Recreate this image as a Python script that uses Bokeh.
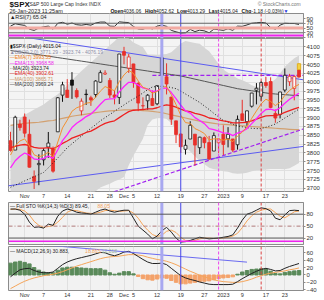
from bokeh.plotting import figure
from bokeh.layouts import column
from bokeh.models import Range1d, FixedTicker, Span, ColumnDataSource, Label
from bokeh.embed import file_html
from bokeh.resources import INLINE
from bokeh.core.properties import value

FONT = "Liberation Sans"

dates = ["2022-10-27","2022-10-28","2022-10-31","2022-11-01","2022-11-02","2022-11-03","2022-11-04",
 "2022-11-07","2022-11-08","2022-11-09","2022-11-10","2022-11-11",
 "2022-11-14","2022-11-15","2022-11-16","2022-11-17","2022-11-18",
 "2022-11-21","2022-11-22","2022-11-23","2022-11-25",
 "2022-11-28","2022-11-29","2022-11-30","2022-12-01","2022-12-02",
 "2022-12-05","2022-12-06","2022-12-07","2022-12-08","2022-12-09",
 "2022-12-12","2022-12-13","2022-12-14","2022-12-15","2022-12-16",
 "2022-12-19","2022-12-20","2022-12-21","2022-12-22","2022-12-23",
 "2022-12-27","2022-12-28","2022-12-29","2022-12-30",
 "2023-01-03","2023-01-04","2023-01-05","2023-01-06",
 "2023-01-09","2023-01-10","2023-01-11","2023-01-12","2023-01-13",
 "2023-01-17","2023-01-18","2023-01-19","2023-01-20",
 "2023-01-23","2023-01-24","2023-01-25","2023-01-26"]

opens = [3834.69, 3808.26, 3881.85, 3901.79, 3852.90, 3733.25, 3766.98,
 3780.71, 3817.02, 3810.94, 3859.89, 3963.72,
 3977.97, 4006.41, 3976.82, 3919.26, 3966.39,
 3956.23, 3965.51, 4000.30, 4023.34,
 4005.36, 3964.19, 3957.18, 4087.14, 4040.17,
 4052.02, 3996.63, 3933.28, 3947.79, 3954.17,
 3939.29, 4069.38, 4015.54, 3958.37, 3890.91,
 3853.79, 3810.47, 3839.49, 3853.26, 3815.11,
 3843.34, 3829.56, 3805.45, 3829.06,
 3853.29, 3840.36, 3839.74, 3823.37,
 3910.82, 3888.57, 3932.35, 3977.57, 3960.60,
 3999.28, 4002.25, 3911.84, 3909.04,
 3978.14, 4001.74, 3982.71, 4036.06]
highs = [3859.95, 3905.42, 3893.73, 3911.79, 3894.44, 3750.59, 3796.34,
 3813.95, 3859.40, 3818.20, 3958.33, 4001.48,
 4008.97, 4028.84, 3983.09, 3954.33, 3979.89,
 3962.00, 4005.88, 4033.78, 4034.02,
 4012.27, 3976.77, 4080.11, 4100.51, 4080.48,
 4052.45, 4001.51, 3957.57, 3966.53, 3977.02,
 3990.71, 4100.96, 4053.76, 3958.37, 3890.91,
 3854.86, 3838.24, 3889.82, 3853.26, 3845.80,
 3846.65, 3848.32, 3858.19, 3839.85,
 3878.46, 3873.16, 3839.74, 3906.19,
 3950.57, 3919.83, 3970.07, 3997.76, 4003.95,
 4015.39, 4014.16, 3922.94, 3972.96,
 4039.31, 4023.92, 4019.55, 4052.62]
lows = [3803.79, 3808.26, 3863.18, 3843.80, 3758.68, 3698.15, 3708.84,
 3764.70, 3786.28, 3744.22, 3859.89, 3944.82,
 3956.40, 3953.17, 3954.34, 3906.54, 3935.98,
 3933.34, 3956.88, 3998.66, 4020.76,
 3955.77, 3937.65, 3938.58, 4050.87, 4026.63,
 3984.49, 3918.39, 3922.68, 3922.66, 3933.04,
 3935.30, 3993.03, 3965.65, 3879.45, 3827.91,
 3800.04, 3795.62, 3839.49, 3764.49, 3797.01,
 3813.22, 3780.78, 3805.45, 3800.34,
 3794.33, 3815.77, 3802.42, 3809.56,
 3890.42, 3877.29, 3928.54, 3937.56, 3947.67,
 3984.57, 3926.59, 3885.54, 3897.86,
 3971.64, 3989.79, 3949.06, 4013.29]
closes = [3807.30, 3901.06, 3871.98, 3856.10, 3759.69, 3719.89, 3770.55,
 3806.80, 3828.11, 3748.57, 3956.37, 3992.93,
 3957.25, 3991.73, 3958.79, 3946.56, 3965.34,
 3949.94, 4003.58, 4027.26, 4026.12,
 3963.94, 3957.63, 4080.11, 4076.57, 4071.70,
 3998.84, 3941.26, 3933.92, 3963.51, 3934.38,
 3990.56, 4019.65, 3995.32, 3895.75, 3852.36,
 3817.66, 3821.62, 3878.44, 3822.39, 3844.82,
 3829.25, 3783.22, 3849.28, 3839.50,
 3824.14, 3852.97, 3808.10, 3895.08,
 3892.09, 3919.25, 3969.61, 3983.17, 3999.09,
 3990.97, 3928.86, 3898.85, 3972.61,
 4019.81, 4016.95, 4016.22, 4015.04]
prev_close = 3830.60

ema7 = [3794, 3821, 3834, 3840, 3820, 3795, 3789, 3794, 3802, 3789, 3831, 3871, 3893, 3918, 3928, 3933,
 3941, 3943, 3958, 3975, 3988, 3982, 3976, 4002, 4021, 4034, 4025, 4004, 3986, 3981, 3969, 3974, 3986,
 3988, 3965, 3937, 3907, 3886, 3884, 3869, 3863, 3855, 3837, 3840, 3840, 3836, 3840, 3832, 3848, 3859,
 3874, 3898, 3919, 3939, 3952, 3946, 3934, 3944, 3963, 3977, 3987, 3994]
ema13 = [3758, 3778, 3791, 3800, 3794, 3783, 3781, 3785, 3791, 3785, 3809, 3835, 3852, 3872, 3884, 3893,
 3903, 3910, 3923, 3938, 3951, 3953, 3954, 3973, 3988, 4000, 4000, 3992, 3984, 3981, 3974, 3976, 3982,
 3984, 3971, 3954, 3935, 3919, 3913, 3900, 3892, 3883, 3869, 3866, 3862, 3857, 3856, 3849, 3856, 3861,
 3869, 3883, 3897, 3912, 3923, 3924, 3920, 3928, 3941, 3952, 3961, 3969]
ma20 = [3703, 3709, 3715, 3721, 3727, 3733, 3739, 3745, 3758, 3772, 3786, 3800, 3815, 3826, 3837, 3848,
 3859, 3870, 3880, 3891, 3900, 3909, 3918, 3927, 3936, 3945, 3953, 3961, 3970, 3979, 3987, 3988, 3989,
 3988, 3985, 3982, 3975, 3967, 3959, 3951, 3943, 3933, 3923, 3912, 3902, 3892, 3887, 3881, 3876, 3874,
 3872, 3870, 3869, 3869, 3873, 3877, 3882, 3890, 3899, 3907, 3916, 3924]
bb_upper = [3873, 3887, 3898, 3908, 3915, 3923, 3930, 3937, 3948, 3957, 3966, 3978, 3991, 4006, 4019, 4032,
 4044, 4056, 4068, 4080, 4092, 4105, 4116, 4129, 4140, 4125, 4113, 4106, 4100, 4079, 4079, 4078, 4079,
 4080, 4085, 4097, 4110, 4117, 4114, 4111, 4109, 4098, 4088, 4070, 4052, 4036, 4027, 4019, 4011, 4006,
 4000, 3992, 3987, 3986, 3993, 3999, 4009, 4025, 4044, 4057, 4068, 4076]
bb_lower = [3533, 3531, 3532, 3534, 3539, 3543, 3548, 3553, 3568, 3587, 3606, 3622, 3639, 3646, 3655, 3664,
 3674, 3684, 3692, 3702, 3708, 3713, 3720, 3725, 3732, 3765, 3793, 3816, 3840, 3879, 3895, 3898, 3899,
 3896, 3885, 3867, 3840, 3817, 3804, 3791, 3777, 3768, 3758, 3754, 3752, 3748, 3747, 3743, 3741, 3742,
 3744, 3748, 3751, 3752, 3753, 3755, 3755, 3755, 3754, 3757, 3764, 3772]
ema40 = [3815, 3819, 3822, 3824, 3821, 3816, 3814, 3814, 3815, 3812, 3819, 3827, 3834, 3842, 3847, 3852,
 3858, 3862, 3869, 3877, 3884, 3888, 3891, 3900, 3909, 3917, 3921, 3922, 3923, 3925, 3925, 3928, 3933,
 3936, 3934, 3930, 3924, 3919, 3917, 3912, 3909, 3905, 3899, 3897, 3894, 3891, 3889, 3885, 3885, 3886,
 3887, 3891, 3896, 3901, 3905, 3906, 3906, 3909, 3915, 3920, 3925, 3929]
ma100 = [3878, 3880, 3882, 3884, 3885, 3886, 3887, 3889, 3891, 3892, 3895, 3898, 3901, 3904, 3906, 3908,
 3910, 3912, 3914, 3916, 3918, 3919, 3920, 3921, 3922, 3922, 3922, 3921, 3920, 3919, 3918, 3916, 3914,
 3911, 3908, 3905, 3902, 3899, 3896, 3893, 3890, 3888, 3886, 3884, 3882, 3881, 3880, 3879, 3878, 3877,
 3876, 3875, 3874, 3873, 3872, 3871, 3870, 3869, 3868, 3867, 3866, 3866]
ma200 = [4090, 4088, 4086, 4084, 4082, 4080, 4078, 4076, 4074, 4072, 4070, 4068, 4066, 4064, 4062, 4060,
 4058, 4056, 4054, 4052, 4050, 4048, 4046, 4044, 4042, 4040, 4038, 4036, 4034, 4032, 4030, 4028, 4026,
 4024, 4022, 4020, 4018, 4015, 4012, 4009, 4006, 4003, 4000, 3997, 3994, 3991, 3988, 3985, 3982, 3980,
 3978, 3976, 3974, 3972, 3970, 3968, 3967, 3966, 3965, 3964, 3963, 3962]

rsi7 = [58, 68, 64, 61, 45, 40, 50, 55, 58, 45, 70, 74, 66, 71, 64, 62, 65, 62, 71, 75, 75, 58, 57, 76,
 74, 73, 56, 46, 45, 52, 46, 58, 62, 57, 40, 34, 29, 30, 44, 35, 41, 38, 30, 45, 43, 40, 47, 40, 58, 57,
 63, 70, 72, 74, 71, 52, 45, 62, 70, 69, 69, 65]
sto_k = [93, 93, 90, 80, 60, 47, 48, 45, 55, 52, 75, 88, 93, 90, 85, 83, 82, 80, 85, 90, 93, 88, 85, 88,
 90, 90, 70, 50, 40, 30, 18, 25, 38, 47, 35, 20, 10, 11, 14, 18, 22, 20, 18, 19, 20, 22, 24, 28, 45, 65,
 80, 84, 90, 96, 94, 88, 70, 66, 78, 89, 90, 89]
sto_d = [92, 93, 92, 88, 78, 62, 52, 47, 49, 51, 60, 72, 85, 90, 89, 86, 83, 82, 82, 85, 89, 90, 89, 87,
 88, 89, 83, 70, 53, 40, 29, 24, 27, 37, 40, 34, 22, 14, 12, 14, 18, 20, 20, 19, 19, 20, 22, 25, 32, 46,
 63, 76, 85, 90, 93, 93, 84, 75, 71, 78, 86, 88]
macd = [-5, 5, 14, 17, 18, 12, 8, 6, 6, 8, 18, 28, 35, 40, 44, 47, 50, 53, 57, 61, 60, 55, 52, 56, 62, 64,
 58, 50, 42, 35, 31, 31, 32, 28, 18, 8, -2, -8, -12, -15, -19, -22, -25, -26, -26, -26, -26, -25, -18,
 -10, -3, 4, 10, 15, 18, 15, 11, 12, 18, 23, 27, 31]
macd_signal = [-37, -30, -23, -17, -12, -8, -5, -2, 0, 2, 5, 9, 14, 19, 24, 28, 32, 36, 40, 44, 47, 49, 50,
 51, 53, 55, 55, 54, 52, 48, 45, 42, 40, 37, 33, 28, 22, 16, 10, 5, -1, -5, -9, -13, -16, -18, -19, -20,
 -20, -18, -15, -11, -6, -2, 2, 5, 7, 9, 11, 14, 16, 19]
macd_hist = [32, 35, 37, 34, 30, 20, 13, 8, 6, 6, 13, 19, 21, 21, 20, 19, 18, 17, 17, 17, 13, 6, 2, 5, 9, 9,
 3, -4, -10, -13, -14, -11, -8, -9, -15, -20, -24, -24, -22, -20, -18, -17, -16, -13, -10, -8, -7, -5, 2,
 8, 12, 15, 16, 17, 16, 10, 4, 3, 7, 9, 11, 12]

tick_dates = ["2022-11-01","2022-11-07","2022-11-14","2022-11-21","2022-11-28","2022-12-01","2022-12-05",
              "2022-12-12","2022-12-19","2022-12-27","2023-01-03","2023-01-09","2023-01-17","2023-01-23"]
tick_labels = ["Nov","7","14","21","28","Dec","5","12","19","27","2023","9","17","23"]

# annotation lines (date, value) pairs
tl_upper = (["2022-10-27", "2023-01-26"], [4134, 4009])
tl_lower = (["2022-10-27", "2023-01-26"], [3708, 3817])
tl_purple = (["2022-12-27", "2023-01-26"], [3775, 3864])
hl_purple = ("2022-12-09", 4019.65)
vlines = [("2022-12-13", "#a8a8f0", 3, "solid"), ("2022-12-19", "#4a4aee", 1, "solid"),
          ("2022-12-30", "#ee44ee", 1, "3 2"), ("2023-01-13", "#dd4444", 1, "3 2")]

xs = list(range(len(dates)))
XR = Range1d(-0.42, 61.95)
tick_idx = [dates.index(d) for d in tick_dates]
BG = "#f2f2f2"


def panel(height, y0, y1, ticks, top=0, bottom=0, xaxis=False, bg=BG):
    p = figure(width=324, height=height, x_range=XR, y_range=Range1d(y0, y1),
               output_backend="svg", toolbar_location=None,
               x_axis_location="below" if xaxis else None, y_axis_location="right",
               min_border_left=8, min_border_right=21, min_border_top=top, min_border_bottom=bottom,
               background_fill_color=bg, border_fill_color="white", outline_line_color="#8c8c8c")
    ya = p.yaxis[0]
    ya.ticker = FixedTicker(ticks=ticks)
    ya.major_label_text_font_size = "6px"
    ya.major_label_text_font = FONT
    ya.major_label_text_color = "#333333"
    ya.major_tick_out = 2
    ya.major_tick_in = 0
    ya.minor_tick_out = 0
    ya.minor_tick_in = 0
    ya.major_label_standoff = 1
    ya.axis_line_color = "#8c8c8c"
    ya.major_tick_line_color = "#8c8c8c"
    if xaxis:
        xa = p.xaxis[0]
        xa.ticker = FixedTicker(ticks=tick_idx)
        xa.major_label_overrides = {i: t for i, t in zip(tick_idx, tick_labels)}
        xa.major_label_text_font_size = "5.5px"
        xa.major_label_text_font = FONT
        xa.major_label_text_color = "#333333"
        xa.major_tick_out = 0
        xa.major_tick_in = 0
        xa.minor_tick_out = 0
        xa.minor_tick_in = 0
        xa.major_label_standoff = 1
        xa.axis_line_color = None
    p.xgrid.ticker = FixedTicker(ticks=tick_idx)
    p.ygrid.ticker = FixedTicker(ticks=ticks)
    p.grid.grid_line_color = "#e0e0e0"
    p.grid.grid_line_width = 1
    for d, col, w, dash in vlines:
        p.add_layout(Span(location=dates.index(d), dimension="height", line_color=col,
                          line_width=w, line_dash=dash))
    return p


def seg_line(p, d_pair, v_pair, **kw):
    i0, i1 = dates.index(d_pair[0]), dates.index(d_pair[1])
    slope = (v_pair[1] - v_pair[0]) / (i1 - i0)
    xa, xb = XR.start - 3, XR.end + 3
    p.line([xa, xb], [v_pair[0] + slope * (xa - i0), v_pair[0] + slope * (xb - i0)], **kw)


# ---------------- header ----------------
hdr = figure(width=324, height=13, x_range=Range1d(0, 324), y_range=Range1d(13, 0),
             output_backend="svg", toolbar_location=None, x_axis_location=None, y_axis_location=None,
             min_border=0, outline_line_color=None, background_fill_color="white")
hdr.grid.visible = False
tf = value(FONT)
hdr.text(x=[1], y=[3.6], text=["$SPX"], text_font=tf, text_font_size="8px", text_font_style="bold",
         text_baseline="middle", text_color="#111111")
hdr.text(x=[23], y=[3.8], text=["S&P 500 Large Cap Index  INDX"], text_font=tf, text_font_size="5px",
         text_baseline="middle", text_color="#333333")
hdr.text(x=[321], y=[3.8], text=["\u00a9 StockCharts.com"], text_font=tf, text_font_size="5px",
         text_baseline="middle", text_align="right", text_color="#777777")
hdr.text(x=[1], y=[10], text=["26-Jan-2023 11:25am"], text_font=tf, text_font_size="5.5px",
         text_baseline="middle", text_color="#222222")
hdr.text(x=[112, 150, 185, 220, 256], y=[10] * 5, text=["Open", "High", "Low", "Last", "Chg"],
         text_font=tf, text_font_size="5px", text_font_style="bold", text_baseline="middle",
         text_color="#111111")
hdr.text(x=[126, 162, 196, 232, 267], y=[10] * 5,
         text=["4036.06", "4052.62", "4013.29", "4015.04", "-1.18 (-0.03%)"],
         text_font=tf, text_font_size="5px", text_baseline="middle", text_color="#222222")
hdr.text(x=[302], y=[10], text=["\u25bc"], text_font=tf, text_font_size="5px", text_baseline="middle",
         text_color="#2233dd")

# ---------------- RSI ----------------
p_rsi = panel(25, 6, 111, [10, 30, 50, 70, 90])
p_rsi.ygrid.grid_line_color = None
p_rsi.add_layout(Span(location=50, dimension="width", line_color="#f2aaa2", line_width=3))
p_rsi.add_layout(Span(location=70, dimension="width", line_color="#666666", line_width=1))
p_rsi.add_layout(Span(location=30, dimension="width", line_color="#666666", line_width=1))
p_rsi.add_layout(Span(location=19, dimension="width", line_color="#ee22ee", line_width=2))
p_rsi.line(xs, rsi7, line_color="#333333", line_width=1)
p_rsi.add_layout(Label(x=XR.start + 0.3, y=96, text="\u25b2RSI(7) 65.04", text_font=FONT,
                       text_font_size="5.5px", text_baseline="middle", text_color="#222222"))

# ---------------- Main price ----------------
YMIN, YMAX = 3691, 4124
p = panel(163, YMIN, YMAX, list(range(3700, 4101, 25)), top=0, bottom=0, xaxis=True, bg="#f4f4f4")
p.varea(x=xs, y1=bb_lower, y2=bb_upper, fill_color="#d6d6d6", fill_alpha=1)
seg_line(p, *tl_upper, line_color="#5b5bf0", line_width=1)
seg_line(p, *tl_lower, line_color="#5b5bf0", line_width=1)
seg_line(p, *tl_purple, line_color="#a020f0", line_width=1.2, line_dash="4 2")
p.line([dates.index(hl_purple[0]), XR.end + 3], [hl_purple[1], hl_purple[1]], line_color="#a020f0",
       line_width=1.2, line_dash="4 2")

col, fill, top_b, bot_b = [], [], [], []
for i in range(len(dates)):
    pc = prev_close if i == 0 else closes[i - 1]
    c = "#111111" if closes[i] >= pc else "#e8302a"
    col.append(c)
    fill.append("#fafafa" if closes[i] >= opens[i] else c)
    top_b.append(max(opens[i], closes[i]))
    bot_b.append(min(opens[i], closes[i]))
src = ColumnDataSource(dict(x=xs, h=highs, l=lows, top=top_b, bot=bot_b, col=col, fill=fill))

p.line(xs, ma200, line_color="#555555", line_width=1)
p.line(xs, ma100, line_color="#d2a070", line_width=1.2)
p.segment(x0="x", y0="h", x1="x", y1="l", line_color="col", line_width=1, source=src)
p.vbar(x="x", width=0.62, top="top", bottom="bot", fill_color="fill", line_color="col",
       line_width=0.8, source=src)
last = len(dates) - 1
p.vbar(x=[xs[last]], width=0.7, top=[highs[last]], bottom=[opens[last]], fill_color="#f5d142",
       line_color="#e0b020")
p.line(xs, ma20, line_color="#222222", line_width=1, line_dash="1 2")
p.line(xs, ema40, line_color="#ee2020", line_width=1.3)
p.line(xs, ema13, line_color="#ff22ff", line_width=1.3)
p.line(xs, ema7, line_color="#f39030", line_width=1)

leg = [("\u25ae$SPX (Daily) 4015.04", "#111111"),
       ("\u25b2BB(20,2.0) 3771.29 - 3923.74 - 4076.19", "#8f8fa8"),
       ("\u2014EMA(7) 3993.55", "#f08020"),
       ("\u2014EMA(13) 3968.58", "#ee22ee"),
       ("\u00b7\u00b7MA(20) 3923.74", "#222222"),
       ("\u2014EMA(40) 3902.61", "#e02020"),
       ("\u2014MA(100) 3865.71", "#c89060"),
       ("\u2014MA(200) 3969.24", "#333333")]
scale = (YMAX - YMIN) / 156.0
for k, (t, c) in enumerate(leg):
    p.add_layout(Label(x=XR.start + 0.25, y=YMAX - (8 + 5.5 * k) * scale, text=t, text_font=FONT,
                       text_font_size="5px", text_baseline="middle", text_color=c))

# ---------------- Full STO ----------------
p_sto = panel(45, 3.8, 109.4, [20, 50, 80], top=1, bottom=2)
p_sto.ygrid.grid_line_color = None
p_sto.add_layout(Span(location=80, dimension="width", line_color="#555555", line_width=1))
p_sto.add_layout(Span(location=20, dimension="width", line_color="#555555", line_width=1))
p_sto.add_layout(Span(location=50, dimension="width", line_color="#b07a7a", line_width=1,
                      line_dash="4 2 1 2"))
p_sto.add_layout(Span(location=12, dimension="width", line_color="#ee22ee", line_width=1.5))
p_sto.line(xs, sto_d, line_color="#f5a55a", line_width=1)
p_sto.line(xs, sto_k, line_color="#222222", line_width=1)
p_sto.add_layout(Label(x=XR.start + 0.3, y=101, text="\u2014 Full STO %K(14,3) %D(3) 89.45,",
                       text_font=FONT, text_font_size="5px", text_baseline="middle",
                       text_color="#222222"))
p_sto.add_layout(Label(x=XR.start + 18.8, y=101, text="88.05", text_font=FONT, text_font_size="5px",
                       text_baseline="middle", text_color="#f5a55a"))

# ---------------- MACD ----------------
p_macd = panel(54, -42, 77, [-40, -20, 0, 20, 40, 60], top=0, bottom=0, xaxis=True)
p_macd.ygrid.grid_line_color = None
hcol = ["#5a8a5a" if v >= 0 else "#f4a26a" for v in macd_hist]
p_macd.vbar(x=xs, width=0.72, top=macd_hist, bottom=0, fill_color=hcol, line_color=hcol)
p_macd.line(xs, macd_signal, line_color="#f5a55a", line_width=1)
p_macd.line(xs, macd, line_color="#222222", line_width=1)
p_macd.line([XR.start - 2, 50], [91.5, 34.7], line_color="#6a6af0", line_width=1)
p_macd.add_layout(Label(x=XR.start + 0.3, y=66, text="\u2014 MACD(12,26,9) 30.883,", text_font=FONT,
                        text_font_size="5px", text_baseline="middle", text_color="#222222"))
p_macd.add_layout(Label(x=XR.start + 16.2, y=66, text="18.865,", text_font=FONT, text_font_size="5px",
                        text_baseline="middle", text_color="#f5a55a"))
p_macd.add_layout(Label(x=XR.start + 19.7, y=66, text="12.018", text_font=FONT, text_font_size="5px",
                        text_baseline="middle", text_color="#9ab89a"))

layout = column(hdr, p_rsi, p, p_sto, p_macd, spacing=0)
open("out.html", "w").write(file_html(layout, INLINE))
